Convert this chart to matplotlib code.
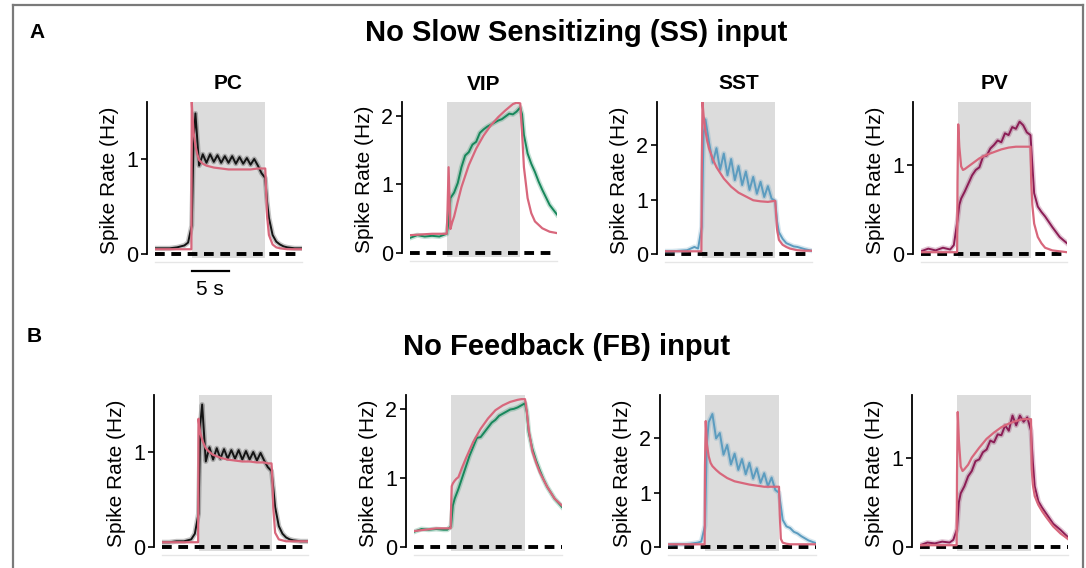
import numpy as np
import matplotlib
matplotlib.use("Agg")
import matplotlib.pyplot as plt
import matplotlib.transforms as mtransforms
from matplotlib.lines import Line2D

plt.rcParams['font.family'] = ['Liberation Sans', 'DejaVu Sans']

W, H = 1086, 568

# time axes (s), stimulus on 0..10 s
t_data = [-5, -4, -3, -2, -1, -0.5, 0, 0.25, 0.5, 1, 1.5, 2, 2.5, 3, 3.5, 4, 4.5, 5, 5.5,
          6, 6.5, 7, 7.5, 8, 8.5, 9, 9.5, 10, 10.25, 10.5, 11, 11.5, 12, 12.5, 13, 14, 15]
t_model = [-5, -2, -0.05, 0, 0.1, 0.25, 0.5, 0.75, 1, 1.5, 2, 3, 4, 5, 6, 7, 8, 9, 9.5,
           10, 10.1, 10.25, 10.5, 11, 11.5, 12, 13, 14, 15]

# --- A: no slow sensitizing input ---
pc_a_data = [0.06, 0.06, 0.06, 0.07, 0.09, 0.12, 0.3, 1.2, 1.48, 0.93, 1.05, 0.96, 1.05, 0.97,
             1.04, 0.96, 1.03, 0.96, 1.03, 0.95, 1.02, 0.95, 1.01, 0.94, 1.0, 0.93, 0.85, 0.8,
             0.55, 0.38, 0.2, 0.13, 0.1, 0.08, 0.07, 0.06, 0.06]
pc_a_model = [0.05, 0.05, 0.05, 1.6, 1.45, 1.28, 1.14, 1.05, 0.99, 0.95, 0.93, 0.91, 0.9, 0.89,
              0.89, 0.89, 0.89, 0.9, 0.9, 0.9, 0.7, 0.4, 0.2, 0.1, 0.07, 0.06, 0.05, 0.05, 0.05]
vip_a_data = [0.22, 0.26, 0.24, 0.25, 0.24, 0.26, 0.28, 0.45, 0.8, 0.88, 1.02, 1.25, 1.42, 1.47,
              1.58, 1.62, 1.75, 1.8, 1.84, 1.87, 1.9, 1.93, 1.95, 1.99, 2.03, 2.02, 2.06, 2.12,
              2.02, 1.72, 1.45, 1.3, 1.18, 1.04, 0.92, 0.7, 0.56]
vip_a_model = [0.26, 0.28, 0.28, 0.29, 0.6, 1.25, 0.35, 0.45, 0.53, 0.75, 0.96, 1.28, 1.52, 1.71,
               1.86, 1.98, 2.08, 2.17, 2.19, 2.18, 2.0, 1.75, 1.25, 0.8, 0.58, 0.46, 0.36, 0.31, 0.29]
sst_a_data = [0.05, 0.05, 0.06, 0.07, 0.13, 0.1, 0.5, 2.2, 2.48, 2.05, 1.68, 1.95, 1.55, 1.85,
              1.45, 1.75, 1.36, 1.62, 1.27, 1.52, 1.18, 1.42, 1.11, 1.33, 1.05, 1.25, 1.02, 0.98,
              0.6, 0.4, 0.28, 0.2, 0.17, 0.14, 0.13, 0.09, 0.06]
sst_a_model = [0.05, 0.05, 0.05, 1.5, 2.8, 2.55, 2.27, 2.08, 1.94, 1.75, 1.6, 1.39, 1.24, 1.13,
               1.06, 0.99, 0.97, 0.96, 0.97, 0.98, 0.75, 0.45, 0.26, 0.17, 0.13, 0.1, 0.07, 0.06, 0.06]
pv_a_data = [0.03, 0.06, 0.04, 0.07, 0.05, 0.1, 0.38, 0.55, 0.62, 0.7, 0.79, 0.88, 0.94, 0.97,
             1.09, 1.1, 1.18, 1.22, 1.27, 1.25, 1.35, 1.33, 1.42, 1.4, 1.48, 1.44, 1.36, 1.33,
             1.0, 0.68, 0.53, 0.47, 0.42, 0.36, 0.3, 0.19, 0.12]
pv_a_model = [0.02, 0.02, 0.02, 0.8, 1.45, 1.2, 0.98, 0.94, 0.95, 0.98, 1.01, 1.07, 1.11, 1.14,
              1.17, 1.19, 1.2, 1.2, 1.2, 1.2, 0.8, 0.55, 0.34, 0.19, 0.12, 0.07, 0.04, 0.03, 0.02]

# --- B: no feedback input ---
pc_b_data = [0.05, 0.05, 0.06, 0.06, 0.08, 0.14, 0.35, 1.3, 1.5, 0.9, 1.05, 0.92, 1.04, 0.93,
             1.03, 0.93, 1.02, 0.93, 1.02, 0.92, 1.01, 0.92, 1.0, 0.91, 0.99, 0.91, 0.84, 0.8,
             0.62, 0.42, 0.22, 0.14, 0.1, 0.08, 0.07, 0.06, 0.06]
pc_b_model = [0.05, 0.05, 0.05, 1.35, 1.28, 1.2, 1.13, 1.08, 1.04, 1.0, 0.97, 0.94, 0.92, 0.91,
              0.9, 0.9, 0.89, 0.89, 0.88, 0.88, 0.75, 0.4, 0.15, 0.08, 0.07, 0.06, 0.06, 0.06, 0.06]
vip_b_data = [0.22, 0.26, 0.25, 0.26, 0.25, 0.25, 0.3, 0.6, 0.7, 0.84, 1.0, 1.16, 1.32, 1.45,
              1.58, 1.59, 1.66, 1.73, 1.8, 1.84, 1.9, 1.93, 1.96, 1.99, 2.0, 2.02, 2.05, 2.08,
              1.95, 1.66, 1.42, 1.25, 1.11, 0.98, 0.87, 0.7, 0.58]
vip_b_model = [0.23, 0.27, 0.27, 0.5, 0.88, 0.92, 0.96, 0.99, 1.01, 1.15, 1.28, 1.52, 1.71, 1.86,
               1.98, 2.05, 2.1, 2.13, 2.14, 2.14, 2.08, 1.95, 1.7, 1.38, 1.22, 1.08, 0.87, 0.7, 0.6]
sst_b_data = [0.04, 0.05, 0.05, 0.06, 0.08, 0.1, 0.4, 1.9, 2.3, 2.45, 2.0, 2.1, 1.7, 1.88,
              1.52, 1.72, 1.42, 1.62, 1.34, 1.55, 1.26, 1.45, 1.18, 1.36, 1.12, 1.28, 1.05, 1.0,
              0.75, 0.5, 0.38, 0.35, 0.28, 0.25, 0.2, 0.12, 0.07]
sst_b_model = [0.05, 0.05, 0.05, 1.5, 2.32, 1.9, 1.67, 1.55, 1.49, 1.42, 1.36, 1.27, 1.21, 1.18,
               1.15, 1.13, 1.11, 1.11, 1.11, 1.11, 0.6, 0.15, 0.08, 0.06, 0.05, 0.05, 0.05, 0.05, 0.05]
pv_b_data = [0.02, 0.05, 0.04, 0.06, 0.05, 0.08, 0.2, 0.5, 0.6, 0.68, 0.79, 0.85, 0.96, 0.98,
             1.06, 1.09, 1.19, 1.17, 1.26, 1.25, 1.36, 1.3, 1.47, 1.36, 1.47, 1.4, 1.45, 1.3,
             0.95, 0.68, 0.51, 0.44, 0.38, 0.32, 0.26, 0.19, 0.11]
pv_b_model = [0.02, 0.02, 0.02, 0.8, 1.51, 1.2, 0.9, 0.85, 0.87, 0.92, 1.0, 1.11, 1.21, 1.28,
              1.34, 1.38, 1.41, 1.43, 1.43, 1.43, 0.87, 0.7, 0.57, 0.47, 0.4, 0.34, 0.23, 0.15, 0.09]

cells = ['PC', 'VIP', 'SST', 'PV']
cell_colors = ['#141414', '#17875b', '#5c9cbf', '#8b1d55']
model_color = '#d8677c'
y_tops = [1.6, 2.2, 2.8, 1.7]
y_ticks = [[0, 1], [0, 1, 2], [0, 1, 2], [0, 1]]
stim_on, stim_off = 0, 10
scale_bar_s = 5

rows = [
    ('A', 'No Slow Sensitizing (SS) input',
     [(pc_a_data, pc_a_model), (vip_a_data, vip_a_model),
      (sst_a_data, sst_a_model), (pv_a_data, pv_a_model)]),
    ('B', 'No Feedback (FB) input',
     [(pc_b_data, pc_b_model), (vip_b_data, vip_b_model),
      (sst_b_data, sst_b_model), (pv_b_data, pv_b_model)]),
]

# panel layout in pixels: left, right, y of zero, y of top
layout = [
    [(155, 302, 254, 102), (410, 557, 253, 102), (665, 812, 254, 102), (921, 1067, 254, 102)],
    [(162, 308, 547, 395), (414, 562, 547, 395), (668, 816, 547, 395), (920, 1068, 547, 395)],
]
row_title_xy = [(576, 33), (567, 347)]
row_label_xy = [(37, 32), (34, 336)]

fig = plt.figure(figsize=(W / 100, H / 100), dpi=100)

for r, (letter, title, panels) in enumerate(rows):
    for c, (data, model) in enumerate(panels):
        left, right, zero, top = layout[r][c]
        ytop = y_tops[c]
        scale = (zero - top) / ytop
        bottom = zero + 4
        ax = fig.add_axes([left / W, 1 - bottom / H, (right - left) / W, (bottom - top) / H])
        ax.set_xlim(t_data[0], t_data[-1])
        ax.set_ylim(-4 / scale, ytop)
        ax.axvspan(stim_on, stim_off, color='#dcdcdc', lw=0, zorder=0)
        ax.plot([t_data[0], t_data[-1]], [0, 0], color='black', lw=2.8,
                ls=(0, (2.5, 1.7)), zorder=1, solid_capstyle='butt')
        ax.plot(t_data, data, color=cell_colors[c], lw=3.6, alpha=0.25, zorder=2)
        ax.plot(t_data, data, color=cell_colors[c], lw=1.4, zorder=3)
        ax.plot(t_model, model, color=model_color, lw=1.6, zorder=4)

        for s in ['top', 'right']:
            ax.spines[s].set_visible(False)
        ax.spines['left'].set_position(('outward', 6))
        ax.spines['left'].set_bounds(0, ytop)
        ax.spines['left'].set_linewidth(1.3)
        ax.spines['bottom'].set_position(('outward', 3))
        ax.spines['bottom'].set_color('#e6e6e6')
        ax.spines['bottom'].set_linewidth(1.0)
        ax.set_xticks([])
        ax.set_yticks(y_ticks[c])
        ax.tick_params(axis='y', length=4, width=1.2, labelsize=15.5, pad=2)
        ax.set_ylabel('Spike Rate (Hz)', fontsize=15, labelpad=5)
        ax.patch.set_visible(False)

        if r == 0:
            ax.set_title(cells[c], fontsize=15, fontweight='bold', pad=9)
        if r == 0 and c == 0:
            tr = mtransforms.blended_transform_factory(ax.transData, ax.transAxes)
            ax.plot([stim_on, stim_on + scale_bar_s], [-0.085, -0.085], color='black',
                    lw=1.6, transform=tr, clip_on=False)
            ax.text(stim_on + scale_bar_s / 2, -0.2, '%d s' % scale_bar_s, transform=tr,
                    ha='center', va='center', fontsize=15)

    tx, ty = row_title_xy[r]
    fig.text(tx / W, 1 - ty / H, title, ha='center', va='center', fontsize=21,
             fontweight='bold')
    lx, ly = row_label_xy[r]
    fig.text(lx / W, 1 - ly / H, letter, ha='center', va='center', fontsize=15,
             fontweight='bold')

# figure frame (left, top, right)
frame = dict(color='#7a7a7a', lw=1.6, transform=fig.transFigure)
fig.add_artist(Line2D([13 / W, 13 / W], [0, 1 - 5 / H], **frame))
fig.add_artist(Line2D([13 / W, 1083 / W], [1 - 5 / H, 1 - 5 / H], **frame))
fig.add_artist(Line2D([1083 / W, 1083 / W], [0, 1 - 5 / H], **frame))

fig.savefig('out.png', dpi=100)
